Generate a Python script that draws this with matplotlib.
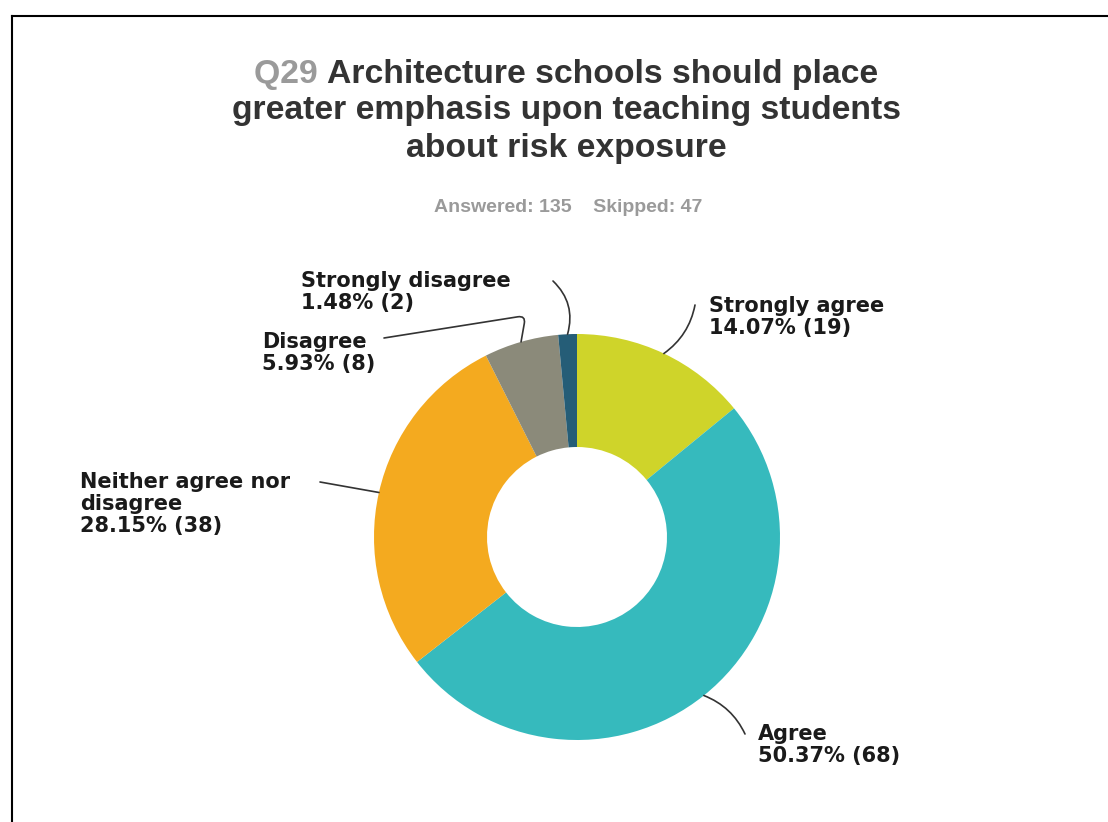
import numpy as np
import matplotlib.pyplot as plt
from matplotlib.lines import Line2D

# survey answers (counts), clockwise from 12 o'clock
answers = ["Strongly agree", "Agree", "Neither agree nor\ndisagree", "Disagree", "Strongly disagree"]
counts = [19, 68, 38, 8, 2]
colors = ["#cfd42a", "#36babd", "#f4aa1f", "#8b8a7a", "#255d77"]
answered, skipped = 135, 47

W, H = 1108, 822
fig = plt.figure(figsize=(W / 100, H / 100), dpi=100)
ax = fig.add_axes([0, 0, 1, 1])

# frame lines (left and top)
fig.add_artist(Line2D([12 / W, 12 / W], [0, 1 - 16 / H], color="black", lw=1.5))
fig.add_artist(Line2D([12 / W, 1], [1 - 16 / H, 1 - 16 / H], color="black", lw=1.5))

# donut
cx, cy, R, r_in = 577, H - 537, 203, 90
wedges, _ = ax.pie(counts, colors=colors, startangle=90, counterclock=False,
                   center=(cx, cy), radius=R, frame=True,
                   wedgeprops=dict(width=R - r_in, edgecolor="none"))
ax.set_xlim(0, W)
ax.set_ylim(0, H)
ax.axis("off")

# label anchors (top-left of text, pixel coords from top) and leader lines
label_pos = [(709, 296), (758, 724), (80, 472), (262, 332), (301, 271)]
line_start = [(695, 305), (745, 734), (320, 482), (384, 338), (553, 281)]
conns = ["arc3,rad=-0.2", "arc3,rad=0.2", "arc3,rad=0",
         "angle,angleA=9,angleB=80,rad=8", "arc3,rad=-0.3"]

total = sum(counts)
for w, name, n, (tx, ty), (sx, sy), cs in zip(wedges, answers, counts, label_pos, line_start, conns):
    pct = n / total * 100
    ax.text(tx, H - ty, f"{name}\n{pct:.2f}% ({n})", ha="left", va="top",
            fontsize=15, fontweight="bold", color="#1a1a1a",
            family="DejaVu Sans", linespacing=1.12)
    mid = np.deg2rad((w.theta1 + w.theta2) / 2)
    ex, ey = cx + R * np.cos(mid), cy + R * np.sin(mid)
    ax.annotate("", xy=(ex, ey), xytext=(sx, H - sy),
                arrowprops=dict(arrowstyle="-", color="#333333", lw=1.2,
                                connectionstyle=cs, shrinkA=0, shrinkB=0))

# title, "Q29" in grey, the rest dark
tfont = dict(family=["Liberation Sans Narrow", "Liberation Sans"], fontsize=24.3, fontweight="bold")
fig.canvas.draw()
rend = fig.canvas.get_renderer()
q = fig.text(0, 0, "Q29 ", color="#9a9a9a", va="center", **tfont)
t = fig.text(0, 0, "Architecture schools should place", color="#333333", va="center", **tfont)
wq = q.get_window_extent(rend).width
wt = t.get_window_extent(rend).width
x0 = 566 - (wq + wt) / 2
q.set_position((x0 / W, 1 - 75 / H))
t.set_position(((x0 + wq) / W, 1 - 75 / H))
fig.text(566 / W, 1 - 111 / H, "greater emphasis upon teaching students",
         color="#333333", ha="center", va="center", **tfont)
fig.text(566 / W, 1 - 148 / H, "about risk exposure",
         color="#333333", ha="center", va="center", **tfont)

fig.text(568 / W, 1 - 208 / H, f"Answered: {answered}    Skipped: {skipped}",
         color="#9a9a9a", ha="center", va="center",
         family=["Liberation Sans Narrow", "Liberation Sans"], fontsize=14, fontweight="bold")

fig.savefig("out.png", dpi=100)
